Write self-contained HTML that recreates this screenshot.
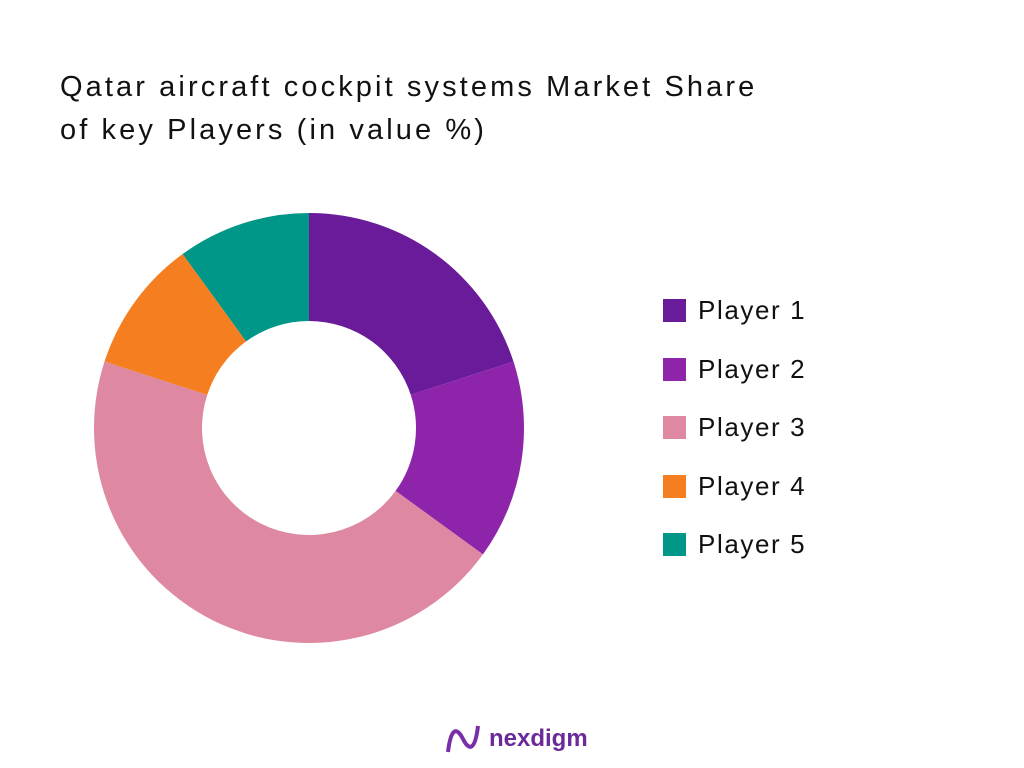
<!DOCTYPE html>
<html><head><meta charset="utf-8"><style>
body{margin:0;width:1024px;height:768px;background:#fff;font-family:"Liberation Sans",sans-serif;overflow:hidden;position:relative}
.title{position:absolute;left:60px;top:66px;font-size:29px;line-height:43px;color:#111;letter-spacing:3.1px;white-space:nowrap}
.leg{position:absolute;left:663px;display:flex;align-items:center;font-size:26px;color:#111;letter-spacing:1.6px}
.sw{width:23px;height:23px;margin-right:12px}
</style></head><body>
<div class="title">Qatar aircraft cockpit systems Market Share<br>of key Players (in value %)</div>
<svg id="chart" width="1024" height="768" style="position:absolute;left:0;top:0"></svg>
<div id="legend"></div>
<div style="position:absolute;left:445px;top:722px;display:flex;align-items:center">
<svg width="36" height="34" viewBox="0 0 36 34"><path d="M3 30 C6 5,12 5,18 17 C24 29,30 29,33 4" stroke="#7b2fa6" stroke-width="4" fill="none"/></svg>
<span style="font-size:24px;font-weight:bold;color:#6a2a9a;margin-left:8px">nexdigm</span></div>
<script>
const categories=["Player 1","Player 2","Player 3","Player 4","Player 5"];
const values=[20,15,45,10,10];
const colors=["#6a1b9a","#8e24aa","#de89a1","#f47e20","#009688"];
const svg=document.getElementById('chart');
const cx=309,cy=428,R=215,r=107;
const total=values.reduce((a,b)=>a+b,0);
let acc=0;
function pt(a,rad){return [cx+rad*Math.sin(a),cy-rad*Math.cos(a)];}
values.forEach((v,i)=>{
const a0=acc/total*2*Math.PI;acc+=v;const a1=acc/total*2*Math.PI;
const lg=(a1-a0)>Math.PI?1:0;
const [x0,y0]=pt(a0,R),[x1,y1]=pt(a1,R),[x2,y2]=pt(a1,r),[x3,y3]=pt(a0,r);
const p=document.createElementNS('http://www.w3.org/2000/svg','path');
p.setAttribute('d',`M${x0},${y0}A${R},${R} 0 ${lg} 1 ${x1},${y1}L${x2},${y2}A${r},${r} 0 ${lg} 0 ${x3},${y3}Z`);
p.setAttribute('fill',colors[i]);


svg.appendChild(p);
});
const lg=document.getElementById('legend');
categories.forEach((c,i)=>{
const d=document.createElement('div');d.className='leg';d.style.top=(295+i*58.5)+'px';


d.innerHTML=`<div class="sw" style="background:${colors[i]}"></div><span>${c}</span>`;
lg.appendChild(d);
});
</script>
</body></html>
